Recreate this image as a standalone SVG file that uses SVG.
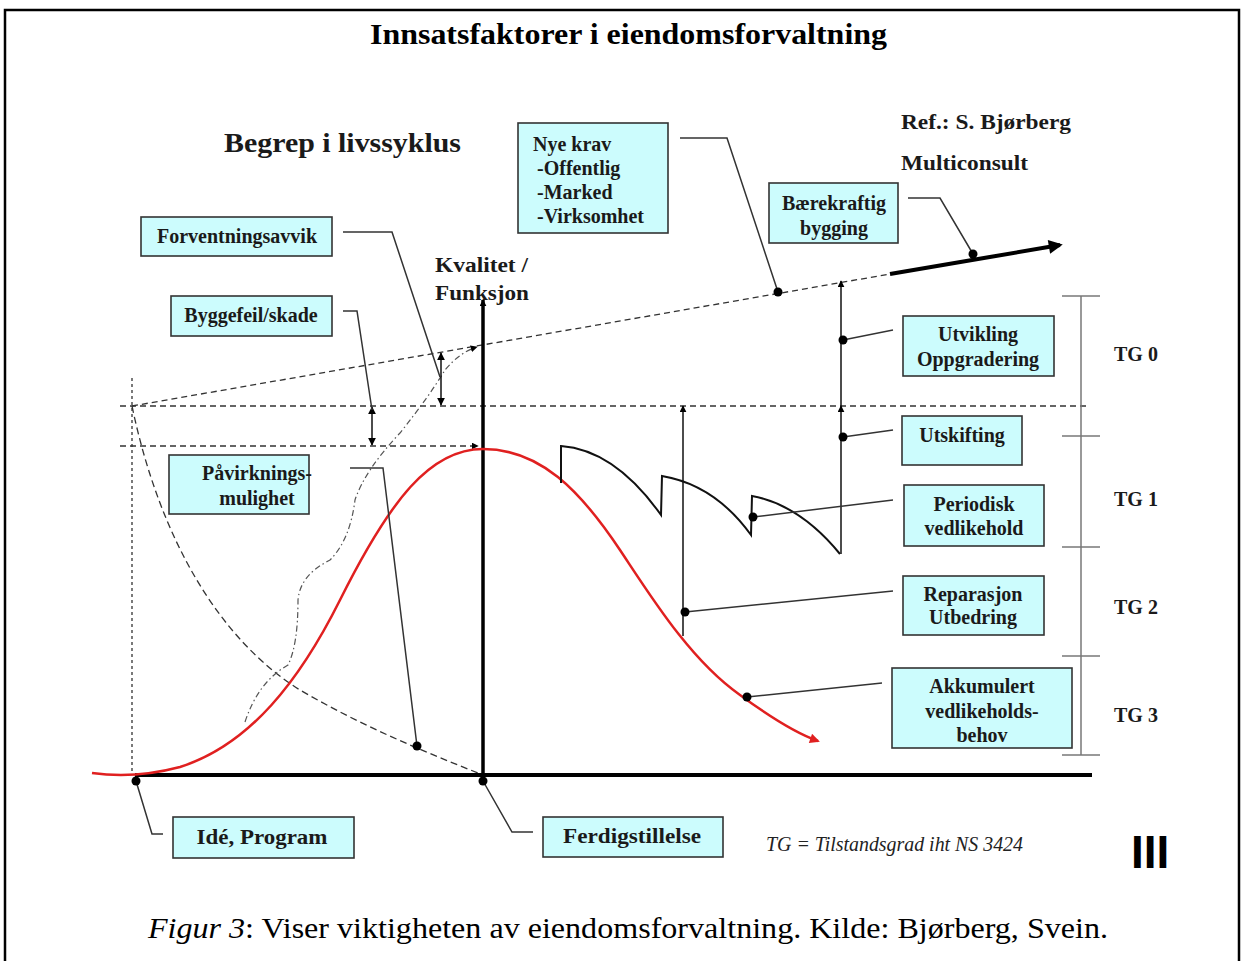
<svg xmlns="http://www.w3.org/2000/svg" width="1245" height="961" viewBox="0 0 1245 961">
<defs>
<style>
.box{fill:#ccfcfd;stroke:#333;stroke-width:1.6}
.bt{font-family:"Liberation Serif","Times New Roman",serif;font-weight:bold;font-size:20px;fill:#1a1a1a;text-anchor:middle}
.lbl{font-family:"Liberation Serif","Times New Roman",serif;font-weight:bold;fill:#1a1a1a}
.lead{fill:none;stroke:#333;stroke-width:1.5}
.dash{fill:none;stroke:#333;stroke-width:1.3;stroke-dasharray:6,4}
.dot{fill:#000}
</style>
<marker id="ah" viewBox="0 0 10 10" refX="9" refY="5" markerWidth="8" markerHeight="8" markerUnits="userSpaceOnUse" orient="auto-start-reverse"><path d="M0,0 L10,5 L0,10 z" fill="#000"/></marker>
<marker id="ahs" viewBox="0 0 10 10" refX="9" refY="5" markerWidth="7" markerHeight="7" markerUnits="userSpaceOnUse" orient="auto"><path d="M0,0 L10,5 L0,10 z" fill="#000"/></marker>
<marker id="ahb" viewBox="0 0 10 10" refX="8" refY="5" markerWidth="16" markerHeight="14" markerUnits="userSpaceOnUse" orient="auto"><path d="M0,0 L10,5 L0,10 z" fill="#000"/></marker>
<marker id="ahr" viewBox="0 0 10 10" refX="8" refY="5" markerWidth="12" markerHeight="10" markerUnits="userSpaceOnUse" orient="auto"><path d="M0,0 L10,5 L0,10 z" fill="#e02020"/></marker>
</defs>
<rect x="0" y="0" width="1245" height="961" fill="#fff"/>
<rect x="5" y="10" width="1234" height="960" fill="none" stroke="#000" stroke-width="2.5"/>
<text x="370" y="44" textLength="517" lengthAdjust="spacingAndGlyphs" font-family="Liberation Serif, serif" font-weight="bold" font-size="30">Innsatsfaktorer i eiendomsforvaltning</text>
<text x="224" y="152" class="lbl" font-size="28" textLength="237" lengthAdjust="spacingAndGlyphs">Begrep i livssyklus</text>
<text x="901" y="129" class="lbl" font-size="22" textLength="170" lengthAdjust="spacingAndGlyphs">Ref.: S. Bjørberg</text>
<text x="901" y="170" class="lbl" font-size="22" textLength="127" lengthAdjust="spacingAndGlyphs">Multiconsult</text>
<text x="435" y="272" class="lbl" font-size="22" textLength="93" lengthAdjust="spacingAndGlyphs">Kvalitet /</text>
<text x="435" y="300" class="lbl" font-size="22" textLength="94" lengthAdjust="spacingAndGlyphs">Funksjon</text>

<g id="connectors">
<line x1="132" y1="378" x2="132" y2="775" fill="none" stroke="#333" stroke-width="1.3" stroke-dasharray="3,3"/>
<line x1="120" y1="406" x2="1090" y2="406" class="dash"/>
<line x1="120" y1="446" x2="478" y2="446" class="dash" marker-end="url(#ahs)"/>
<line x1="132" y1="406" x2="890" y2="274" class="dash"/>
<line x1="890" y1="274" x2="1060" y2="245" stroke="#000" stroke-width="4" marker-end="url(#ahb)"/>
<path d="M132,406 C160,540 220,640 300,690 C360,725 420,750 483,775" fill="none" stroke="#333" stroke-width="1.3" stroke-dasharray="7,4"/>
<path d="M245,722 Q258,682 288,665 Q298,645 298,600 Q300,575 330,560 Q350,540 355,500 Q365,470 400,433 Q428,398 445,370 Q460,352 477,347" fill="none" stroke="#555" stroke-width="1.2" stroke-dasharray="6,3,1.5,3" marker-end="url(#ahs)"/>
<line x1="135" y1="775" x2="1092" y2="775" stroke="#000" stroke-width="4"/>
<line x1="483" y1="777" x2="483" y2="300" stroke="#000" stroke-width="3.5" marker-end="url(#ahs)"/>
<path d="M92,773 Q135,779 180,767 C250,745 300,680 340,600 C390,500 430,449 483,449 C540,449 580,490 620,550 C650,595 690,660 740,695 C770,717 795,733 818,741" fill="none" stroke="#e02020" stroke-width="2.5" marker-end="url(#ahr)"/>
<path d="M561,483 L561,446 Q615,450 661,515 L662,476 Q715,485 751,535 L752,496 Q800,505 840,554" fill="none" stroke="#111" stroke-width="2"/>
<line x1="683" y1="636" x2="683" y2="406" stroke="#111" stroke-width="1.5" marker-end="url(#ahs)"/>
<line x1="841" y1="554" x2="841" y2="406" stroke="#111" stroke-width="1.5" marker-end="url(#ahs)"/>
<line x1="841" y1="406" x2="841" y2="281" stroke="#111" stroke-width="1.5" marker-end="url(#ahs)"/>
<line x1="441" y1="353" x2="441" y2="405" stroke="#111" stroke-width="1.5" marker-start="url(#ah)" marker-end="url(#ah)"/>
<line x1="372" y1="407" x2="372" y2="445" stroke="#111" stroke-width="1.5" marker-start="url(#ah)" marker-end="url(#ah)"/>
<g stroke="#777" stroke-width="1.5">
<line x1="1081" y1="296" x2="1081" y2="755"/>
<line x1="1062" y1="296" x2="1100" y2="296"/>
<line x1="1062" y1="436" x2="1100" y2="436"/>
<line x1="1062" y1="547" x2="1100" y2="547"/>
<line x1="1062" y1="656" x2="1100" y2="656"/>
<line x1="1062" y1="755" x2="1100" y2="755"/>
</g>
<path class="lead" d="M343,232 L392,232 L440,377"/>
<path class="lead" d="M343,311 L357,311 L372,410"/>
<path class="lead" d="M350,468 L383,468 L417,746"/>
<path class="lead" d="M680,138 L727,138 L778,292"/>
<path class="lead" d="M908,198 L940,198 L973,254"/>
<path class="lead" d="M843,340 L893,330"/>
<path class="lead" d="M843,437 L893,430"/>
<path class="lead" d="M753,517 L893,500"/>
<path class="lead" d="M685,612 L893,591"/>
<path class="lead" d="M747,697 L882,683"/>
<path class="lead" d="M136,781 L152,834 L163,834"/>
<path class="lead" d="M483,781 L512,832 L533,832"/>
<g class="dot">
<circle cx="417" cy="746" r="4.5"/>
<circle cx="778" cy="292" r="4.5"/>
<circle cx="973" cy="254" r="4.5"/>
<circle cx="843" cy="340" r="4.5"/>
<circle cx="843" cy="437" r="4.5"/>
<circle cx="753" cy="517" r="4.5"/>
<circle cx="685" cy="612" r="4.5"/>
<circle cx="747" cy="697" r="4.5"/>
<circle cx="136" cy="781" r="4.5"/>
<circle cx="483" cy="781" r="4.5"/>
</g>
</g>

<g id="n-forventningsavvik"><rect class="box" x="141" y="217" width="191" height="39"/><text class="bt" x="237" y="243">Forventningsavvik</text></g>
<g id="n-byggefeil"><rect class="box" x="171" y="296" width="161" height="40"/><text class="bt" x="251" y="322">Byggefeil/skade</text></g>
<g id="n-nyekrav"><rect class="box" x="518" y="123" width="150" height="110"/>
<text class="lbl" font-size="20" x="533" y="151">Nye krav</text>
<text class="lbl" font-size="20" x="537" y="175">-Offentlig</text>
<text class="lbl" font-size="20" x="537" y="199">-Marked</text>
<text class="lbl" font-size="20" x="537" y="223">-Virksomhet</text></g>
<g id="n-baerekraftig"><rect class="box" x="769" y="183" width="129" height="60"/><text class="bt" x="834" y="210">Bærekraftig</text><text class="bt" x="834" y="235">bygging</text></g>
<g id="n-utvikling"><rect class="box" x="903" y="316" width="151" height="60"/><text class="bt" x="978" y="341">Utvikling</text><text class="bt" x="978" y="366">Oppgradering</text></g>
<g id="n-utskifting"><rect class="box" x="902" y="416" width="120" height="49"/><text class="bt" x="962" y="442">Utskifting</text></g>
<g id="n-periodisk"><rect class="box" x="904" y="485" width="140" height="61"/><text class="bt" x="974" y="511">Periodisk</text><text class="bt" x="974" y="535">vedlikehold</text></g>
<g id="n-reparasjon"><rect class="box" x="903" y="576" width="141" height="59"/><text class="bt" x="973" y="601">Reparasjon</text><text class="bt" x="973" y="624">Utbedring</text></g>
<g id="n-akkumulert"><rect class="box" x="892" y="668" width="180" height="80"/><text class="bt" x="982" y="693">Akkumulert</text><text class="bt" x="982" y="718">vedlikeholds-</text><text class="bt" x="982" y="742">behov</text></g>
<g id="n-pavirkning"><rect class="box" x="169" y="455" width="140" height="59"/><text class="bt" x="257" y="480">Påvirknings-</text><text class="bt" x="257" y="505">mulighet</text></g>
<g id="n-ide"><rect class="box" x="173" y="817" width="181" height="41"/><text class="bt" x="262" y="844" font-size="25" textLength="131" lengthAdjust="spacingAndGlyphs">Idé, Program</text></g>
<g id="n-ferdig"><rect class="box" x="543" y="817" width="180" height="40"/><text class="bt" x="632" y="843" font-size="25" textLength="138" lengthAdjust="spacingAndGlyphs">Ferdigstillelse</text></g>

<g id="tg-labels">
<text class="lbl" font-size="20" x="1114" y="361">TG 0</text>
<text class="lbl" font-size="20" x="1114" y="506">TG 1</text>
<text class="lbl" font-size="20" x="1114" y="614">TG 2</text>
<text class="lbl" font-size="20" x="1114" y="722">TG 3</text>
</g>
<text x="766" y="851" font-family="Liberation Serif, serif" font-style="italic" font-size="20" fill="#222" textLength="257" lengthAdjust="spacingAndGlyphs">TG = Tilstandsgrad iht NS 3424</text>
<text x="1131" y="868" font-family="Liberation Sans, Arial, sans-serif" font-weight="bold" font-size="46" fill="#000">III</text>
<text x="148" y="938" font-family="Liberation Serif, serif" font-size="30" fill="#000" textLength="960" lengthAdjust="spacingAndGlyphs"><tspan font-style="italic">Figur 3</tspan>: Viser viktigheten av eiendomsforvaltning. Kilde: Bjørberg, Svein.</text>
</svg>
